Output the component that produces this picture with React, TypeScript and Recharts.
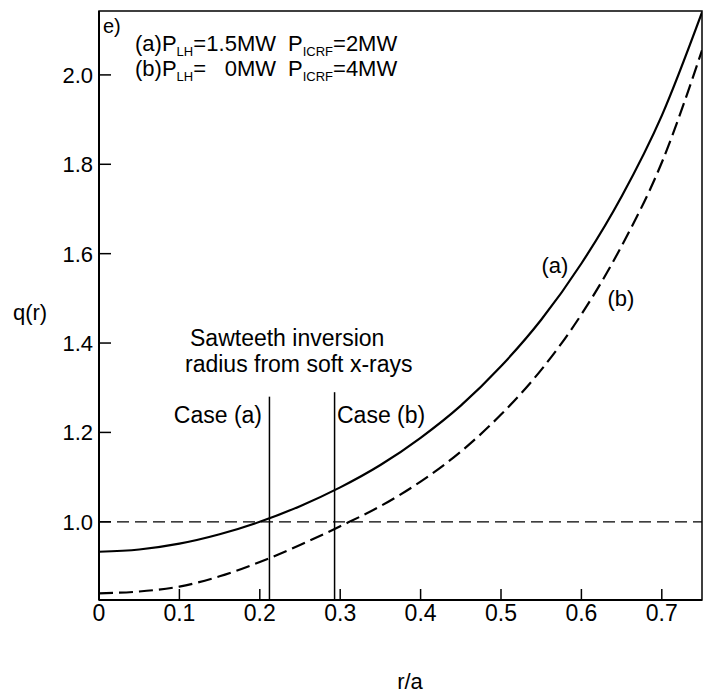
import { LineChart, Line, XAxis, YAxis, ReferenceLine, ReferenceArea } from 'recharts'

const radius = [0, 0.05, 0.1, 0.15, 0.2, 0.25, 0.3, 0.35, 0.4, 0.45, 0.5, 0.55, 0.6, 0.65, 0.7, 0.75]
// case (a): P_LH = 1.5MW, P_ICRF = 2MW
const qCaseA = [0.933, 0.938, 0.951, 0.972, 1.0, 1.035, 1.077, 1.127, 1.188, 1.26, 1.348, 1.452, 1.578, 1.728, 1.909, 2.14]
// case (b): P_LH = 0MW, P_ICRF = 4MW
const qCaseB = [0.84, 0.844, 0.855, 0.878, 0.91, 0.948, 0.99, 1.035, 1.09, 1.157, 1.24, 1.34, 1.464, 1.617, 1.804, 2.055]

const xTicks = [0, 0.1, 0.2, 0.3, 0.4, 0.5, 0.6, 0.7]
const yTicks = [1.0, 1.2, 1.4, 1.6, 1.8, 2.0]

// sawtooth inversion radii from soft x-rays
const inversionA = 0.212
const inversionB = 0.293

const X_MAX = 0.75
const Y_MIN = 0.825
const Y_MAX = 2.143

const data = radius.map((r, i) => ({ r, a: qCaseA[i], b: qCaseB[i] }))

const FONT = '"Liberation Sans", Arial, sans-serif'

const XTick = (props: any) => {
  const { x, y, payload } = props
  const v = payload.value
  return (
    <g>
      <line x1={x} y1={y} x2={x} y2={y - 11} stroke="#000" strokeWidth={1.5} />
      <text x={x} y={y + 21} textAnchor="middle" fontSize={23} fontFamily={FONT} fill="#000">
        {v === 0 ? '0' : v.toFixed(1)}
      </text>
    </g>
  )
}

const YTick = (props: any) => {
  const { x, y, payload } = props
  return (
    <g>
      <line x1={x} y1={y} x2={x + 12} y2={y} stroke="#000" strokeWidth={1.5} />
      <text x={x - 6} y={y + 8} textAnchor="end" fontSize={22} fontFamily={FONT} fill="#000">
        {payload.value.toFixed(1)}
      </text>
    </g>
  )
}

export default function App() {
  return (
    <div style={{ position: 'absolute', left: 0, top: 0, width: 709, height: 698, background: '#fff' }}>
      <LineChart width={709} height={698} data={data} margin={{ top: 11, right: 7, bottom: 68, left: 0 }}>
        <XAxis
          dataKey="r"
          type="number"
          domain={[0, X_MAX]}
          ticks={xTicks}
          tickSize={0}
          tickMargin={0}
          tick={<XTick />}
          axisLine={{ stroke: '#000', strokeWidth: 2 }}
          allowDataOverflow
        />
        <YAxis
          type="number"
          domain={[Y_MIN, Y_MAX]}
          ticks={yTicks}
          width={99}
          tickSize={0}
          tickMargin={0}
          tick={<YTick />}
          axisLine={{ stroke: '#000', strokeWidth: 2 }}
          allowDataOverflow
        />
        <ReferenceArea x1={0} x2={X_MAX} y1={Y_MIN} y2={Y_MAX} fill="none" stroke="#000" strokeWidth={1.5} />
        <ReferenceLine y={1.0} stroke="#000" strokeWidth={1.3} strokeDasharray="12 6" />
        <ReferenceLine
          segment={[{ x: inversionA, y: Y_MIN }, { x: inversionA, y: 1.28 }]}
          stroke="#000"
          strokeWidth={1.5}
        />
        <ReferenceLine
          segment={[{ x: inversionB, y: Y_MIN }, { x: inversionB, y: 1.29 }]}
          stroke="#000"
          strokeWidth={1.5}
        />
        <Line type="monotone" dataKey="a" stroke="#000" strokeWidth={2.2} dot={false} isAnimationActive={false} />
        <Line
          type="monotone"
          dataKey="b"
          stroke="#000"
          strokeWidth={2.2}
          strokeDasharray="14 6"
          dot={false}
          isAnimationActive={false}
        />
      </LineChart>
      <svg
        width={709}
        height={698}
        style={{ position: 'absolute', left: 0, top: 0, pointerEvents: 'none' }}
        fontFamily={FONT}
        fill="#000"
      >
        <text x={30} y={320} textAnchor="middle" fontSize={22}>q(r)</text>
        <text x={410} y={689} textAnchor="middle" fontSize={22}>r/a</text>
        <text x={103} y={33} fontSize={20}>e)</text>
        <text x={135} y={51} fontSize={22}>
          (a)P<tspan fontSize={13} dy={5}>LH</tspan>
          <tspan dy={-5}>=</tspan>
        </text>
        <text x={276} y={51} fontSize={22} textAnchor="end">1.5MW</text>
        <text x={288} y={51} fontSize={22}>
          P<tspan fontSize={13} dy={5}>ICRF</tspan>
          <tspan dy={-5}>=2MW</tspan>
        </text>
        <text x={135} y={76} fontSize={22}>
          (b)P<tspan fontSize={13} dy={5}>LH</tspan>
          <tspan dy={-5}>=</tspan>
        </text>
        <text x={276} y={76} fontSize={22} textAnchor="end">0MW</text>
        <text x={288} y={76} fontSize={22}>
          P<tspan fontSize={13} dy={5}>ICRF</tspan>
          <tspan dy={-5}>=4MW</tspan>
        </text>
        <text x={190} y={346} fontSize={23}>Sawteeth inversion</text>
        <text x={185} y={372} fontSize={23}>radius from soft x-rays</text>
        <text x={262} y={423} fontSize={23} textAnchor="end">Case (a)</text>
        <text x={337} y={423} fontSize={23}>Case (b)</text>
        <text x={555} y={273} fontSize={22} textAnchor="middle">(a)</text>
        <text x={621} y={306} fontSize={22} textAnchor="middle">(b)</text>
      </svg>
    </div>
  )
}
